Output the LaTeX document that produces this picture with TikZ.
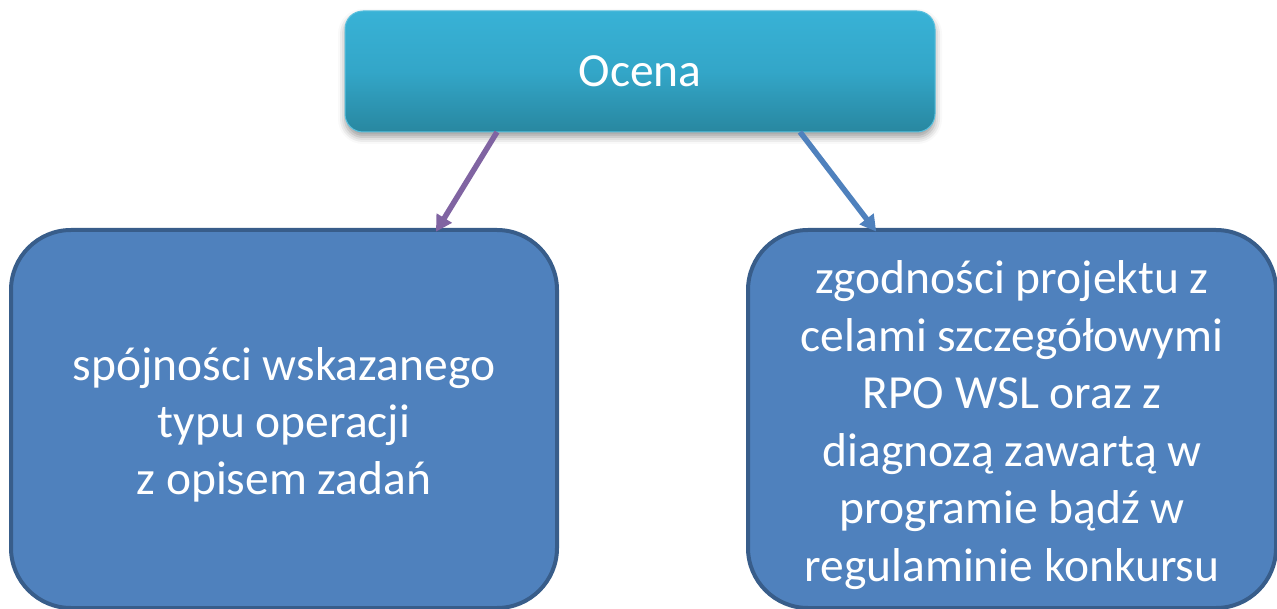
\documentclass[tikz,border=0pt]{standalone}
\usepackage{fontspec}
\setmainfont{Carlito}
\usetikzlibrary{arrows.meta,calc,shadows.blur}

\definecolor{headtop}{RGB}{56,178,214}
\definecolor{headmid}{RGB}{51,166,200}
\definecolor{headbot}{RGB}{40,135,160}
\definecolor{headline}{RGB}{90,192,222}
\definecolor{boxfill}{RGB}{79,129,189}
\definecolor{boxline}{RGB}{56,93,138}
\definecolor{arrowpurple}{RGB}{128,100,162}
\definecolor{arrowblue}{RGB}{79,129,189}

% multi-line label, set a little below the box centre
\newcommand{\boxlines}[1]{\raisebox{-7pt}[\height][\depth]{\begin{tabular}{@{}c@{}}#1\end{tabular}}}

\tikzset{
  headbox/.style={rectangle, rounded corners=18pt, draw=headline, line width=1pt,
    top color=headtop, bottom color=headbot, middle color=headmid,
    minimum width=590pt, minimum height=121pt, inner sep=0pt, outer sep=0pt,
    text=white, font=\fontsize{47.5}{57.5}\selectfont,
    blur shadow={shadow xshift=0pt, shadow yshift=-5pt, shadow blur radius=7pt, shadow opacity=40}},
  itembox/.style={rectangle, rounded corners=60pt, draw=boxline, line width=4pt,
    fill=boxfill, inner sep=0pt, outer sep=0pt, minimum height=378pt,
    text=white, font=\fontsize{47.5}{57.5}\selectfont},
  link/.style={line width=5.5pt, -{Triangle[length=16pt,width=17pt]}, shorten >=-2pt}
}

\begin{document}
\begin{tikzpicture}[x=1pt,y=-1pt]
  \useasboundingbox (0,0) rectangle (1277,609);

  % header
  \node[headbox] (head) at (640,71.5) {Ocena};

  % the two assessment areas
  \node[itembox, minimum width=546pt] (left) at (284,419)
    {\boxlines{spójności wskazanego\\typu operacji\\z opisem zadań}};
  \node[itembox, minimum width=528pt] (right) at (1012,419)
    {\boxlines{zgodności projektu z\\celami szczegółowymi\\RPO WSL oraz z\\diagnozą zawartą w\\programie bądź w\\regulaminie konkursu}};

  % connector end points
  \coordinate (s1) at ([xshift=-143pt]head.south);
  \coordinate (s2) at ([xshift=160pt]head.south);
  \coordinate (e1) at ([xshift=153pt]left.north);
  \coordinate (e2) at ([xshift=-137pt]right.north);

  \draw[link, arrowpurple] (s1) -- (e1);
  \draw[link, arrowblue] (s2) -- (e2);
\end{tikzpicture}
\end{document}
